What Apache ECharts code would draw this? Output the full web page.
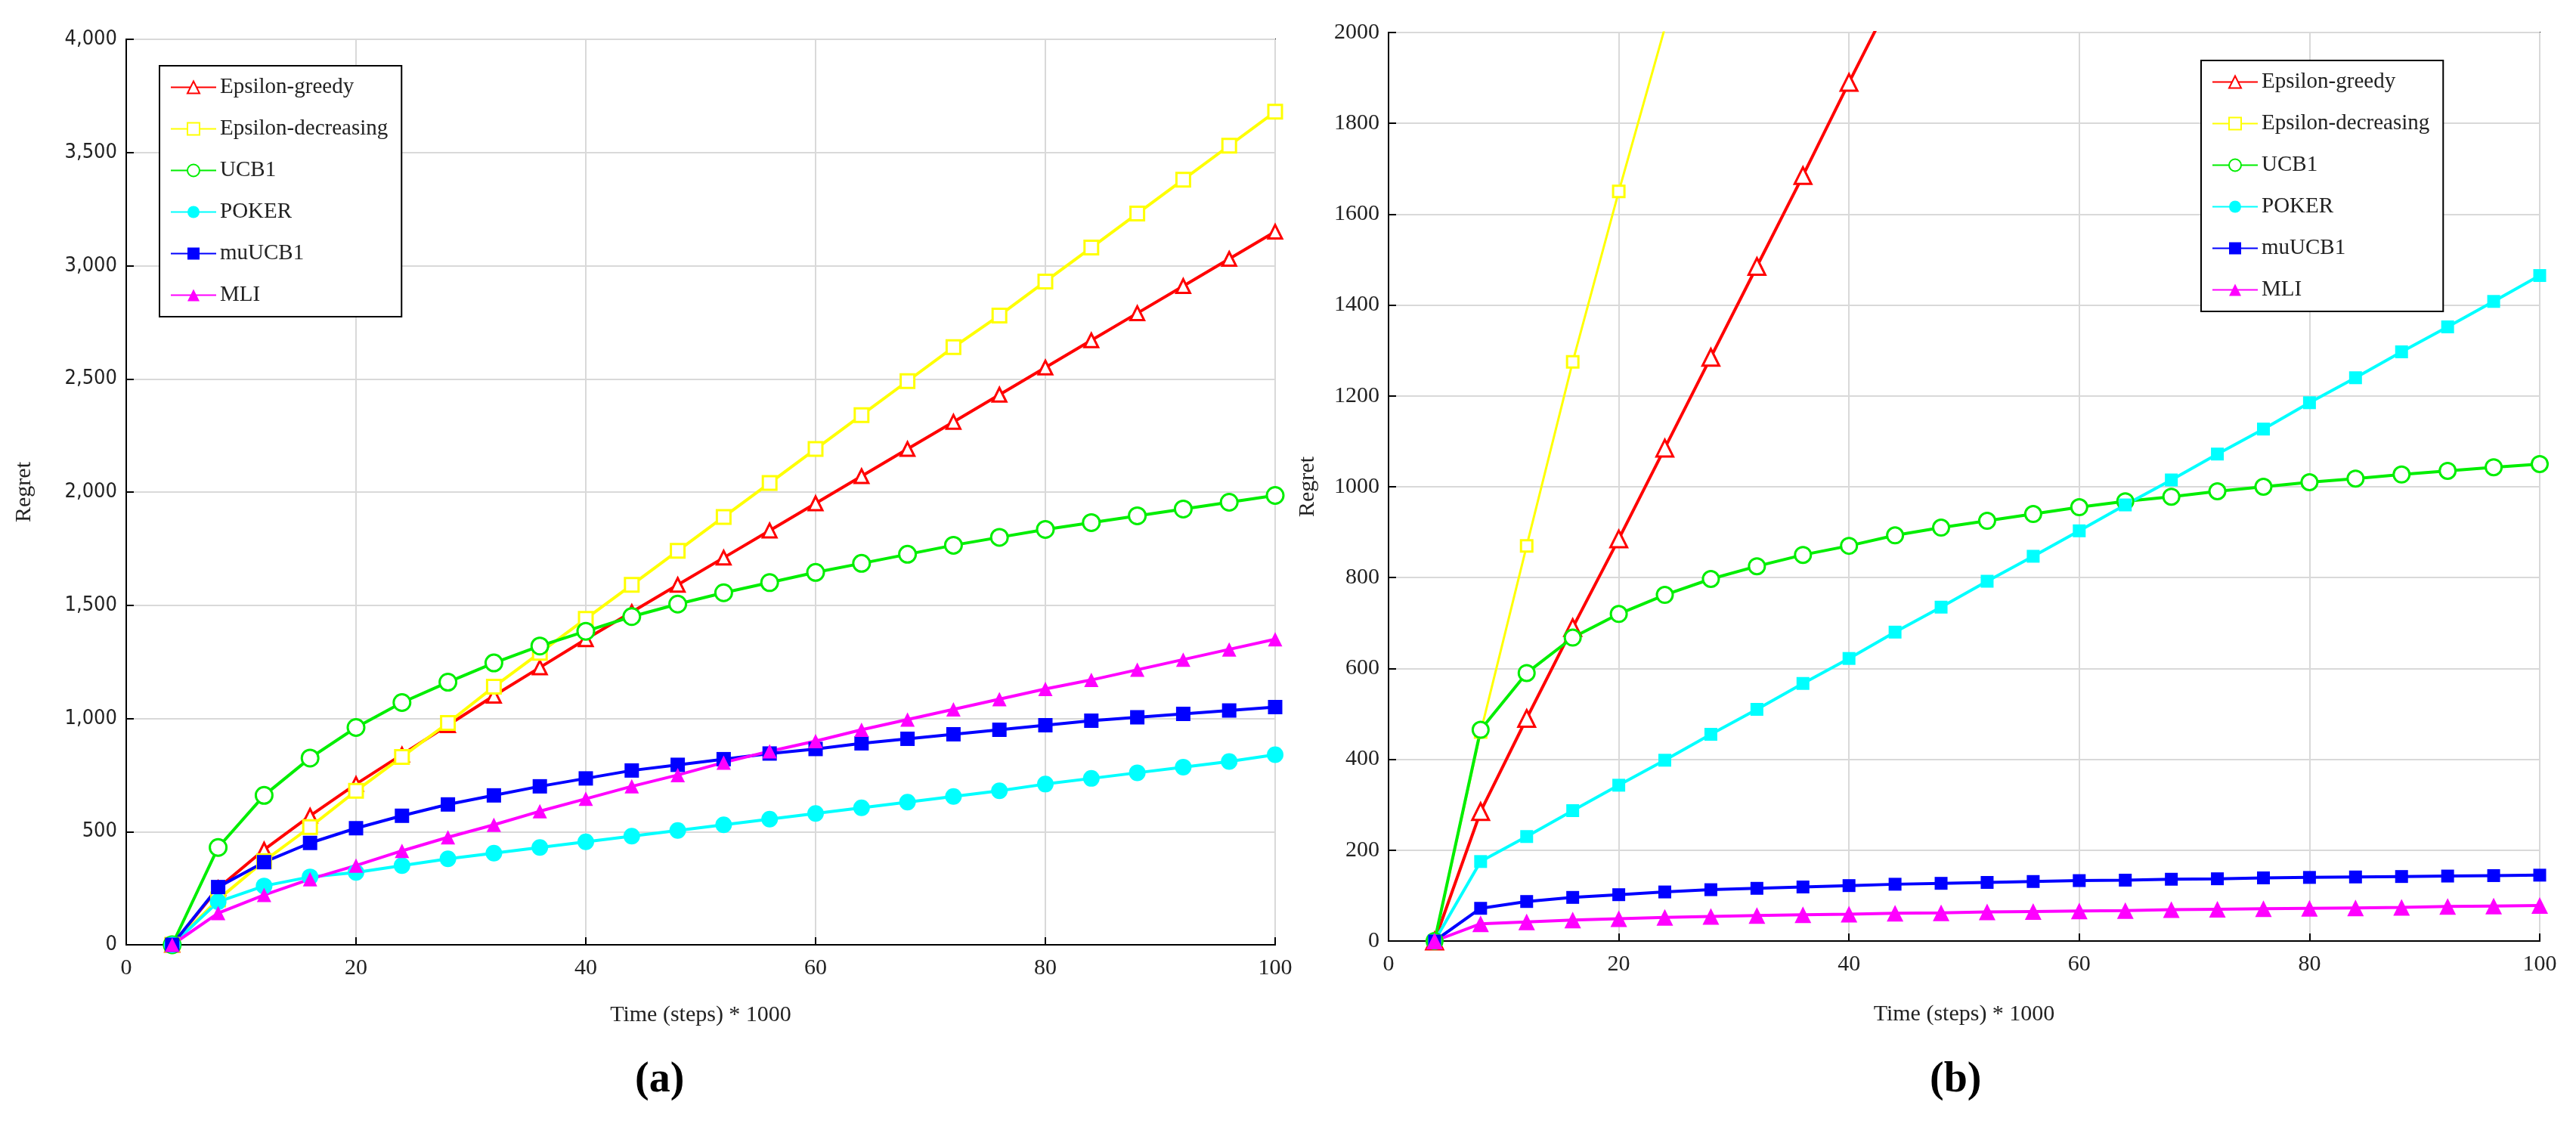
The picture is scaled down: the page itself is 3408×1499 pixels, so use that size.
<!DOCTYPE html>
<html><head><meta charset="utf-8">
<script src="https://cdn.jsdelivr.net/npm/echarts@6/dist/echarts.min.js"></script>
<style>html,body{margin:0;background:#fff}#c{width:3408px;height:1499px}</style>
</head><body><div id="c"></div>
<script>
const steps = [4,8,12,16,20,24,28,32,36,40,44,48,52,56,60,64,68,72,76,80,84,88,92,96,100];
const names = ['Epsilon-greedy','Epsilon-decreasing','UCB1','POKER','muUCB1','MLI'];
// Panel (a)
const aGreedy = [0,250,420,570,710,840,970,1100,1225,1350,1470,1590,1710,1830,1950,2070,2190,2310,2430,2550,2670,2790,2910,3030,3150];
const aDecr = [0,200,370,520,680,830,980,1140,1290,1440,1590,1740,1890,2040,2190,2340,2490,2640,2780,2930,3080,3230,3380,3530,3680];
const aUCB1 = [0,430,660,825,960,1070,1160,1245,1320,1385,1450,1505,1555,1600,1645,1685,1725,1765,1800,1835,1865,1895,1925,1955,1985];
const aPoker = [0,190,260,300,320,350,380,405,430,455,480,505,530,555,580,605,630,655,680,710,735,760,785,810,840];
const aMu = [0,255,365,450,515,570,620,660,700,735,770,795,820,845,865,890,910,930,950,970,990,1005,1020,1035,1050];
const aMLI = [0,140,220,290,350,415,475,530,590,645,700,750,805,855,900,950,995,1040,1085,1130,1170,1215,1260,1305,1350];
// Panel (b)
const bGreedy = [0,285,490,690,885,1085,1285,1485,1685,1890,2090];
const bDecr = [0,460,870,1275,1650,2010];
const bUCB1 = [0,465,590,668,720,762,797,825,850,870,893,910,925,940,955,968,978,990,1000,1010,1018,1027,1035,1043,1050];
const bPoker = [0,175,230,287,343,398,455,510,567,622,680,735,792,847,903,960,1015,1072,1127,1185,1240,1297,1352,1408,1465];
const bMu = [0,72,87,96,102,108,113,116,119,122,125,127,129,131,133,134,136,137,139,140,141,142,143,144,145];
const bMLI = [0,38,42,46,49,52,54,56,58,59,61,62,64,65,66,67,69,70,71,72,73,74,76,77,78];

const colors = ['#ff0000','#ffff00','#00ee00','#00ffff','#0000ff','#ff00ff'];
const serif = 'Liberation Serif';
const pair = v => v.map((y,i)=>[steps[i],y]);

function mk(data, idx, name, symbol, size, hollow, lw) {
  const c = colors[names.indexOf(name)];
  return {type:'line', name, xAxisIndex:idx, yAxisIndex:idx, data:pair(data),
    symbol, symbolSize:size, showAllSymbol:true, clip:true,
    lineStyle:{color:c, width:lw},
    itemStyle:{color: hollow ? '#fff' : c, borderColor:c, borderWidth: hollow?3:0},
    emphasis:{disabled:true}, z: 3};
}
const series = [
  mk(aGreedy,0,'Epsilon-greedy','triangle',18,true,4),
  mk(aDecr,0,'Epsilon-decreasing','rect',18,true,4),
  mk(aUCB1,0,'UCB1','circle',22,true,4),
  mk(aPoker,0,'POKER','circle',22,false,4),
  mk(aMu,0,'muUCB1','rect',19,false,4),
  mk(aMLI,0,'MLI','triangle',19,false,4),
  mk(bGreedy,1,'Epsilon-greedy','triangle',22,true,4),
  mk(bDecr,1,'Epsilon-decreasing','rect',15,true,3),
  mk(bUCB1,1,'UCB1','circle',21,true,4),
  mk(bPoker,1,'POKER','rect',17,false,4),
  mk(bMu,1,'muUCB1','rect',17,false,4),
  mk(bMLI,1,'MLI','triangle',22,false,4)
];

const axisCommon = {
  axisLine:{show:true,lineStyle:{color:'#000',width:2}},
  axisTick:{show:true,inside:true,length:10,lineStyle:{color:'#000',width:2}},
  splitLine:{show:true,lineStyle:{color:'#d9d9d9',width:2}},
  nameLocation:'middle',
  nameTextStyle:{fontFamily:serif,fontSize:30,color:'#222'}
};
const legendCommon = {orient:'vertical', padding:[14,18,14,14], itemGap:26, itemWidth:60, itemHeight:20,
  backgroundColor:'#fff', borderColor:'#000', borderWidth:2, borderRadius:0, selectedMode:false,
  textStyle:{fontFamily:serif,fontSize:29,color:'#222'}};
const chart = echarts.init(document.getElementById('c'));
chart.setOption({
  backgroundColor:'#fff',
  animation:false,
  grid:[
    {left:167,right:1721,top:52,bottom:249,show:true,borderColor:'#000',borderWidth:2},
    {left:1837,right:48,top:43,bottom:254,show:true,borderColor:'#000',borderWidth:2}
  ],
  xAxis:[
    Object.assign({},axisCommon,{gridIndex:0,type:'value',min:0,max:100,interval:20,name:'Time (steps) * 1000',nameGap:78,
      axisLabel:{fontFamily:serif,fontSize:30,color:'#222',margin:16}}),
    Object.assign({},axisCommon,{gridIndex:1,type:'value',min:0,max:100,interval:20,name:'Time (steps) * 1000',nameGap:82,
      axisLabel:{fontFamily:serif,fontSize:30,color:'#222',margin:16}})
  ],
  yAxis:[
    Object.assign({},axisCommon,{gridIndex:0,type:'value',min:0,max:4000,interval:500,name:'Regret',nameGap:120,
      axisLabel:{fontFamily:'DejaVu Sans Condensed',fontSize:27,color:'#222',margin:12,
        formatter:v=>v.toLocaleString('en-US')}}),
    Object.assign({},axisCommon,{gridIndex:1,type:'value',min:0,max:2000,interval:200,name:'Regret',nameGap:92,
      axisLabel:{fontFamily:serif,fontSize:30,color:'#222',margin:12,formatter:v=>String(v)}})
  ],
  legend:[
    Object.assign({},legendCommon,{data:names, left:211, top:87}),
    Object.assign({},legendCommon,{data:names, left:2912, top:80})
  ],
  graphic:[
    {type:'text',left:840,top:1402,style:{text:'(a)',font:'bold 56px "Liberation Serif"',fill:'#000'}},
    {type:'text',left:2553,top:1402,style:{text:'(b)',font:'bold 56px "Liberation Serif"',fill:'#000'}}
  ],
  series
});
</script></body></html>
